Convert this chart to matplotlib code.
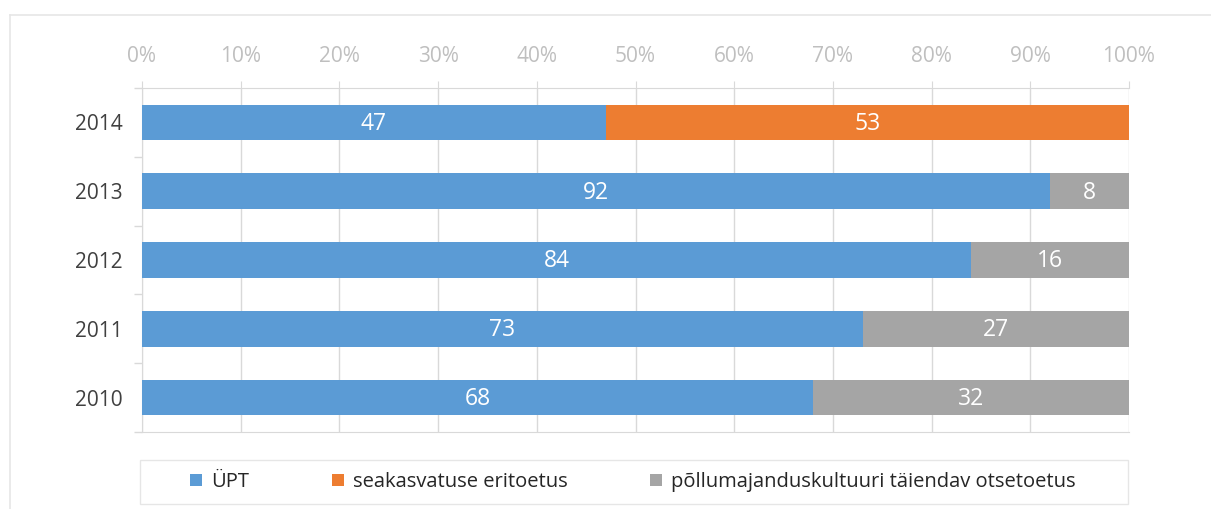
import numpy as np
import matplotlib
matplotlib.use("Agg")
from matplotlib import pyplot as plt
from matplotlib.patches import Rectangle
from matplotlib.lines import Line2D

plt.rcParams['font.family'] = ['Open Sans', 'DejaVu Sans']

years = ['2014', '2013', '2012', '2011', '2010']
upt = [47, 92, 84, 73, 68]
seakasvatus = [53, 0, 0, 0, 0]
pollumajandus = [0, 8, 16, 27, 32]

series_names = ['ÜPT', 'seakasvatuse eritoetus', 'põllumajanduskultuuri täiendav otsetoetus']
colors = ['#5B9BD5', '#ED7D31', '#A5A5A5']

W, H = 1211, 509
fig = plt.figure(figsize=(W / 100, H / 100), dpi=100)
ax = fig.add_axes([142 / W, 1 - 432 / H, (1129 - 142) / W, (432 - 88) / H])

y = np.arange(len(years))
left = np.zeros(len(years))
for vals, name, c in zip([upt, seakasvatus, pollumajandus], series_names, colors):
    vals = np.array(vals, dtype=float)
    bars = ax.barh(y, vals, left=left, height=0.52, color=c, label=name, zorder=3)
    for b, v in zip(bars, vals):
        if v > 0:
            ax.text(b.get_x() + b.get_width() / 2, b.get_y() + b.get_height() / 2 + 0.02, f'{v:.0f}',
                    ha='center', va='center', color='white', fontsize=16.5, zorder=4)
    left += vals

ax.set_xlim(0, 100)
ax.set_ylim(len(years) - 0.5, -0.5)

grid_c = '#D9D9D9'
ax.set_xticks(np.arange(0, 101, 10))
ax.set_xticklabels([f'{t}%' for t in range(0, 101, 10)])
ax.xaxis.tick_top()
ax.tick_params(axis='x', which='major', length=5, color=grid_c, pad=10,
               labelcolor='#BFBFBF', labelsize=15)
ax.grid(axis='x', color=grid_c, linewidth=1, zorder=0)

ax.set_yticks(y)
ax.set_yticklabels(years)
ax.set_yticks(np.arange(-0.5, len(years)), minor=True)
ax.tick_params(axis='y', which='major', length=0, pad=14, labelcolor='#404040', labelsize=15)
ax.tick_params(axis='y', which='minor', length=6, color=grid_c, width=1)

for s in ['top', 'bottom', 'left', 'right']:
    ax.spines[s].set_color(grid_c)
ax.spines['right'].set_visible(False)

# outer chart border (left and top only visible)
fig.add_artist(Line2D([10 / W, 10 / W], [0, 1 - 15 / H], transform=fig.transFigure,
                      color='#E6E6E6', linewidth=1.2))
fig.add_artist(Line2D([10 / W, 1], [1 - 15 / H, 1 - 15 / H], transform=fig.transFigure,
                      color='#E6E6E6', linewidth=1.2))

# legend box
fig.add_artist(Rectangle((140 / W, 1 - 504 / H), (1128 - 140) / W, 44 / H,
                         transform=fig.transFigure, facecolor='none', edgecolor='#E6E6E6', linewidth=1))
fig.legend(loc='center', bbox_to_anchor=(633 / W, 1 - 482 / H), ncol=3, frameon=False,
           fontsize=14.5, handlelength=0.6, handleheight=0.6, handletextpad=0.45,
           columnspacing=4.1, labelcolor='#262626')

fig.savefig('out.png', dpi=100)
